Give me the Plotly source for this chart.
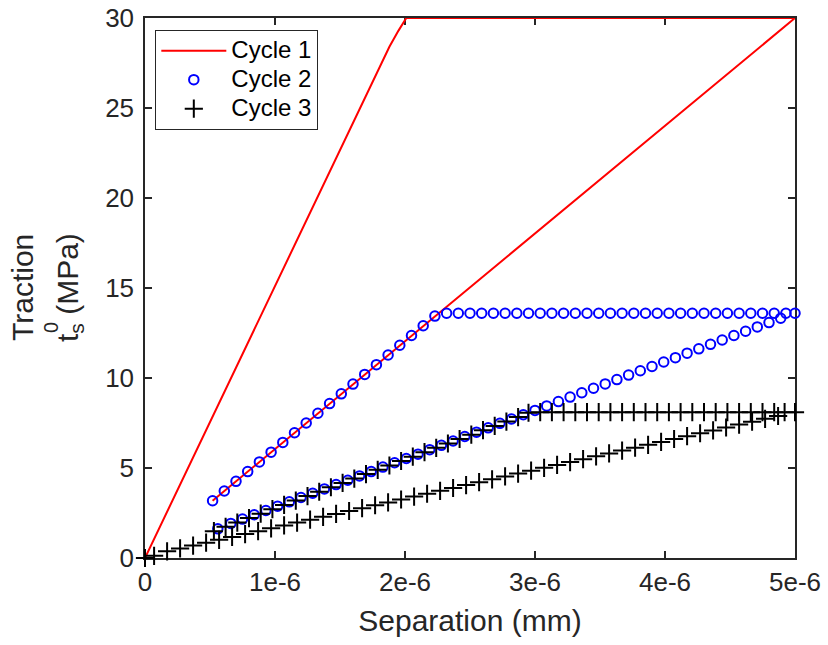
import plotly.graph_objects as go

# ---------------- data ----------------
# Cycle 1 (red line): loading, plateau at 30 MPa, unloading to (0.52e-6, 3.18)
c1_x = [0.0, 1.88e-6, 1.95e-6, 2.01e-6, 5.0e-6, 0.52e-6]
c1_y = [0.0, 28.4, 29.3, 30.0, 30.0, 3.18]

# Cycle 2 (blue circles): reload, plateau at 13.6 MPa, unload
c2_x = [0.52, 0.61, 0.70, 0.79, 0.88, 0.97, 1.06, 1.15, 1.24, 1.33,
        1.42, 1.51, 1.60, 1.69, 1.78, 1.87, 1.96, 2.05, 2.14, 2.23,
        2.32, 2.41, 2.50, 2.59, 2.68, 2.77, 2.86, 2.95, 3.04, 3.13,
        3.22, 3.31, 3.40, 3.49, 3.58, 3.67, 3.76, 3.85, 3.94, 4.03,
        4.12, 4.21, 4.30, 4.39, 4.48, 4.57, 4.66, 4.75, 4.84, 4.93, 5.00,
        4.89, 4.80, 4.71, 4.62, 4.53, 4.44, 4.35, 4.26, 4.17, 4.08,
        3.99, 3.90, 3.81, 3.72, 3.63, 3.54, 3.45, 3.36, 3.27, 3.18,
        3.09, 3.00, 2.91, 2.82, 2.73, 2.64, 2.55, 2.46, 2.37, 2.28,
        2.19, 2.10, 2.01, 1.92, 1.83, 1.74, 1.65, 1.56, 1.47, 1.38,
        1.29, 1.20, 1.11, 1.02, 0.93, 0.84, 0.75, 0.66, 0.56]
c2_y = [3.18, 3.72, 4.26, 4.80, 5.34, 5.88, 6.42, 6.96, 7.50, 8.04,
        8.58, 9.12, 9.66, 10.20, 10.74, 11.28, 11.82, 12.36, 12.90, 13.44,
        13.6, 13.6, 13.6, 13.6, 13.6, 13.6, 13.6, 13.6, 13.6, 13.6,
        13.6, 13.6, 13.6, 13.6, 13.6, 13.6, 13.6, 13.6, 13.6, 13.6,
        13.6, 13.6, 13.6, 13.6, 13.6, 13.6, 13.6, 13.6, 13.6, 13.6, 13.6,
        13.32, 13.08, 12.84, 12.60, 12.36, 12.11, 11.87, 11.62, 11.38, 11.13,
        10.89, 10.64, 10.40, 10.16, 9.91, 9.67, 9.43, 9.18, 8.94, 8.69,
        8.45, 8.20, 7.96, 7.72, 7.48, 7.23, 6.99, 6.75, 6.50, 6.26,
        6.02, 5.77, 5.53, 5.29, 5.05, 4.80, 4.56, 4.32, 4.08, 3.84,
        3.60, 3.36, 3.12, 2.88, 2.64, 2.40, 2.16, 1.92, 1.62]

# Cycle 3 (black plus): reload, plateau at 8.1 MPa, unload to origin
c3_x = [0.53, 0.62, 0.71, 0.80, 0.89, 0.98, 1.07, 1.16, 1.25, 1.34,
        1.43, 1.52, 1.61, 1.70, 1.79, 1.88, 1.97, 2.06, 2.15, 2.24,
        2.33, 2.42, 2.51, 2.60, 2.69, 2.78, 2.87, 2.95,
        3.04, 3.13, 3.22, 3.31, 3.40, 3.49, 3.58, 3.67, 3.76, 3.85,
        3.94, 4.03, 4.12, 4.21, 4.30, 4.39, 4.48, 4.57, 4.66, 4.75,
        4.84, 4.92, 5.00,
        4.87, 4.77, 4.67, 4.57, 4.47, 4.37, 4.27, 4.17, 4.07, 3.97,
        3.87, 3.77, 3.67, 3.57, 3.47, 3.37, 3.27, 3.17, 3.07, 2.97,
        2.87, 2.77, 2.67, 2.57, 2.47, 2.37, 2.27, 2.17, 2.07, 1.97,
        1.87, 1.77, 1.67, 1.57, 1.47, 1.37, 1.27, 1.17, 1.07, 0.97,
        0.87, 0.77, 0.67, 0.57, 0.47, 0.37, 0.27, 0.17, 0.07, 0.00]
c3_y = [1.49, 1.73, 1.97, 2.22, 2.46, 2.71, 2.95, 3.19, 3.44, 3.68,
        3.93, 4.17, 4.41, 4.66, 4.90, 5.14, 5.39, 5.63, 5.88, 6.12,
        6.36, 6.61, 6.85, 7.10, 7.34, 7.58, 7.83, 8.07,
        8.1, 8.1, 8.1, 8.1, 8.1, 8.1, 8.1, 8.1, 8.1, 8.1,
        8.1, 8.1, 8.1, 8.1, 8.1, 8.1, 8.1, 8.1, 8.1, 8.1,
        8.1, 8.1, 8.1,
        7.89, 7.73, 7.57, 7.41, 7.25, 7.09, 6.93, 6.77, 6.61, 6.45,
        6.29, 6.13, 5.97, 5.81, 5.65, 5.49, 5.33, 5.17, 5.01, 4.85,
        4.69, 4.53, 4.37, 4.21, 4.05, 3.89, 3.73, 3.57, 3.41, 3.25,
        3.09, 2.93, 2.77, 2.61, 2.45, 2.29, 2.13, 1.97, 1.81, 1.65,
        1.49, 1.33, 1.17, 1.01, 0.85, 0.69, 0.53, 0.37, 0.12, 0.00]

x_scale = 1e-6  # cycles 2 and 3 listed in units of 1e-6 mm

series_names = ["Cycle 1", "Cycle 2", "Cycle 3"]
x_tickvals = [0, 1e-6, 2e-6, 3e-6, 4e-6, 5e-6]
x_ticktext = ["0", "1e-6", "2e-6", "3e-6", "4e-6", "5e-6"]
y_tickvals = [0, 5, 10, 15, 20, 25, 30]
y_ticktext = ["0", "5", "10", "15", "20", "25", "30"]

# ---------------- figure ----------------
FONT = "Arial, Liberation Sans, Helvetica, sans-serif"
TXT = "#262626"


def legend_label(s):
    return "<span style='font-size:24px'>" + s + "</span>"


fig = go.Figure()
fig.add_trace(go.Scatter(
    x=c1_x, y=c1_y, mode="lines", name=legend_label(series_names[0]),
    line=dict(color="#ff0000", width=2)))
fig.add_trace(go.Scatter(
    x=[v * x_scale for v in c2_x], y=c2_y, mode="markers",
    name=legend_label(series_names[1]),
    marker=dict(symbol="circle-open", size=9.5, color="#0000ff",
                line=dict(color="#0000ff", width=2)),
    cliponaxis=False))
fig.add_trace(go.Scatter(
    x=[v * x_scale for v in c3_x], y=c3_y, mode="markers",
    name=legend_label(series_names[2]),
    marker=dict(symbol="cross-thin", size=13, color="#000000",
                line=dict(color="#000000", width=2)),
    cliponaxis=False))

axis_common = dict(
    showline=True, linecolor=TXT, linewidth=1.5, mirror="ticks",
    ticks="inside", ticklen=7, tickwidth=1.5, tickcolor=TXT,
    showgrid=False, zeroline=False, layer="below traces", automargin=False,
    tickfont=dict(family=FONT, size=26, color=TXT),
)

fig.update_xaxes(range=[0, 5e-6], tickvals=x_tickvals, ticktext=x_ticktext,
                 title=dict(text="Separation (mm)",
                            font=dict(family=FONT, size=30, color=TXT),
                            standoff=14),
                 **axis_common)
fig.update_yaxes(range=[0, 30], tickvals=y_tickvals, ticktext=y_ticktext,
                 ticklabelstandoff=4, **axis_common)

fig.update_layout(
    width=828, height=645,
    margin=dict(l=145, r=33, t=18, b=87),
    paper_bgcolor="white", plot_bgcolor="white",
    font=dict(family=FONT, color=TXT),
    legend=dict(x=0.0154, y=0.978, xanchor="left", yanchor="top",
                bgcolor="white", bordercolor=TXT, borderwidth=1.3,
                font=dict(family=FONT, size=20, color="#000000"),
                itemwidth=65, tracegroupgap=0),
    showlegend=True,
)

# y-axis label (two lines, second with stacked sub/superscript)
fig.add_annotation(text="Traction", textangle=-90, xref="paper", yref="paper",
                   x=0, y=0.5, xanchor="center", yanchor="middle",
                   xshift=22 - 145, showarrow=False,
                   font=dict(family=FONT, size=30, color=TXT))
fig.add_annotation(text="t<sub>s</sub> (MPa)", textangle=-90, xref="paper", yref="paper",
                   x=0, y=0.5, xanchor="center", yanchor="middle",
                   xshift=69 - 145, yshift=0, showarrow=False,
                   font=dict(family=FONT, size=30, color=TXT))
fig.add_annotation(text="0", textangle=-90, xref="paper", yref="paper",
                   x=0, y=0.5, xanchor="center", yanchor="middle",
                   xshift=51 - 145, yshift=288 - 328, showarrow=False,
                   font=dict(family=FONT, size=20, color=TXT))

fig.write_html("out.html")
